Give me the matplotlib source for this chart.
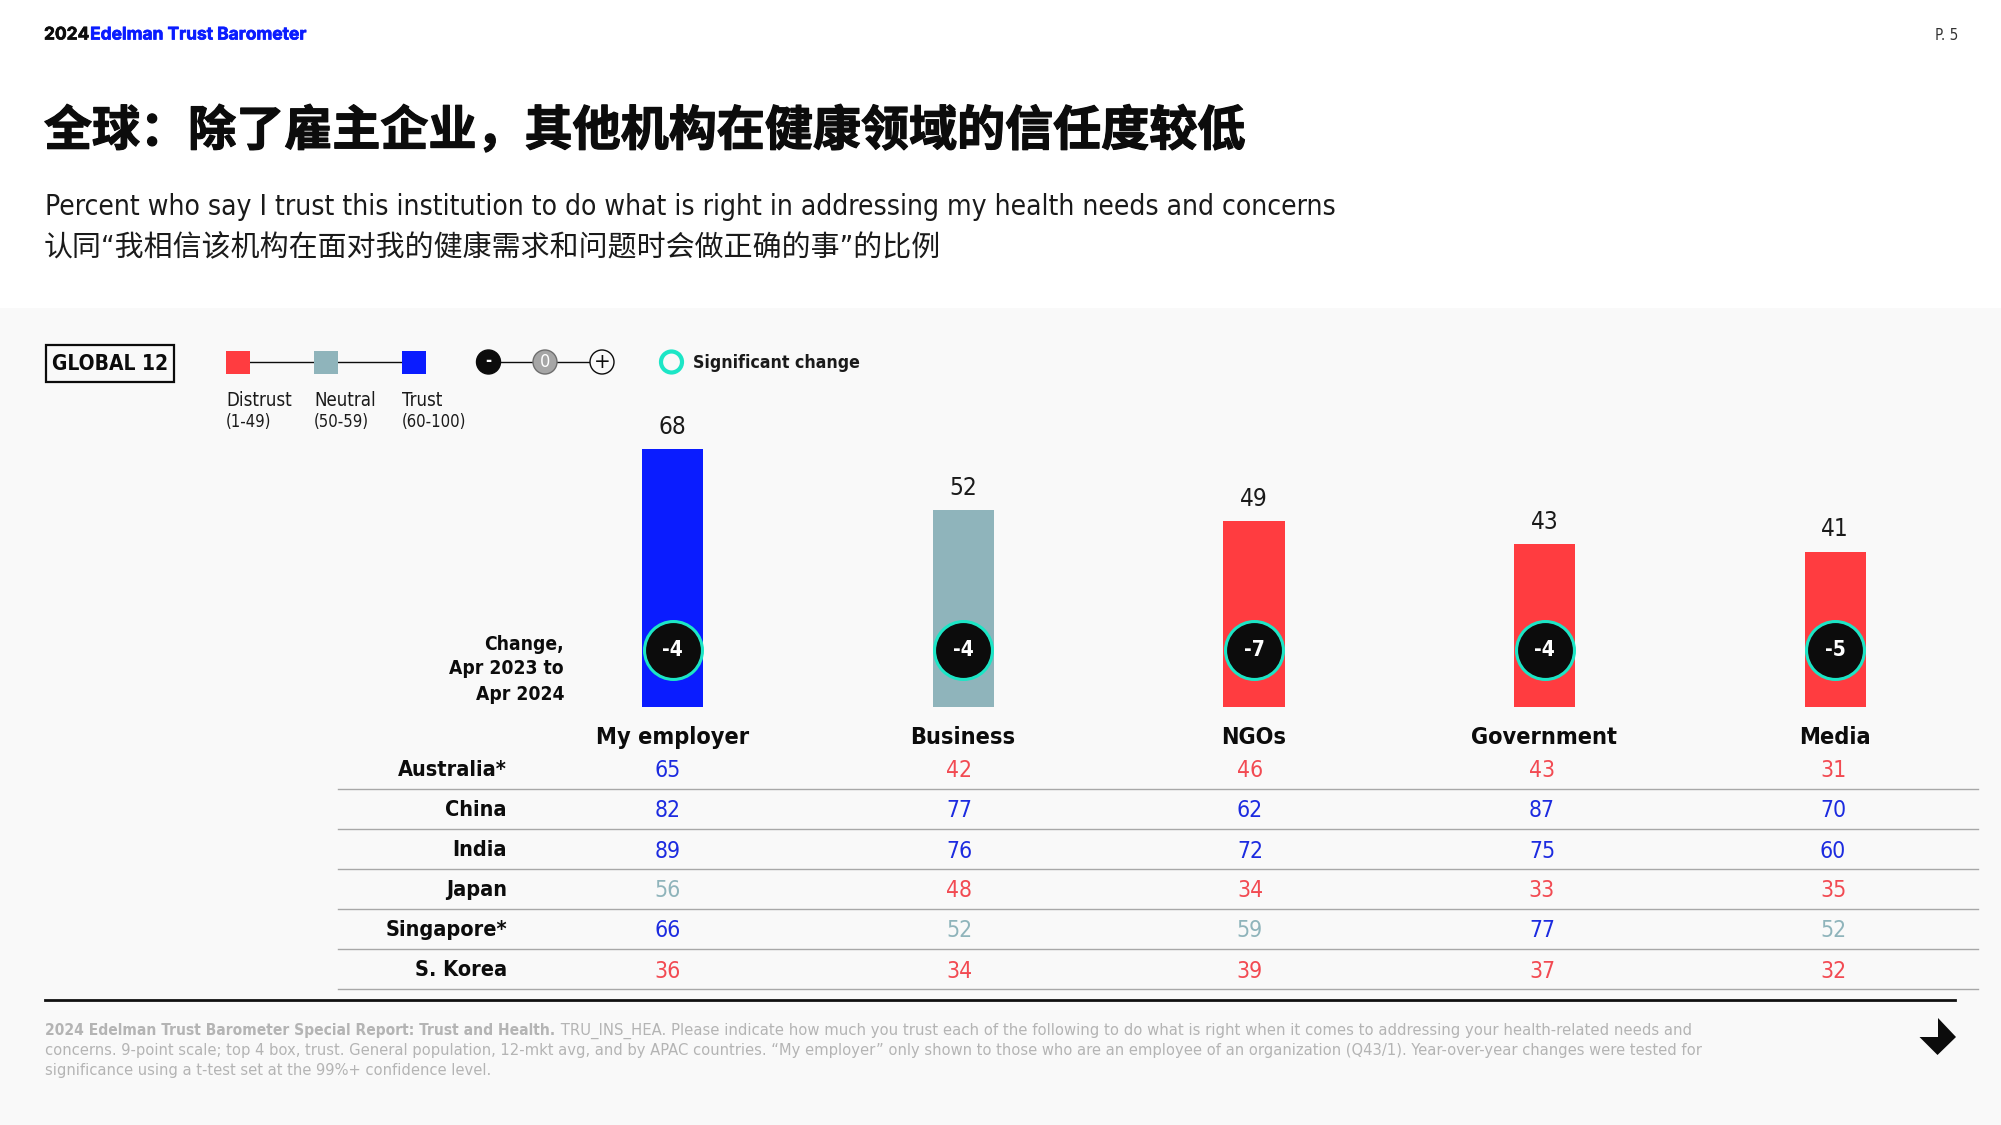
"""Edelman Trust Barometer slide: trust in institutions on health, global and APAC."""
import matplotlib
matplotlib.use("Agg")
import matplotlib.pyplot as plt
import matplotlib.patheffects as pe
from matplotlib.patches import Circle, Polygon, Rectangle

W, H = 2001, 1125

INSTITUTIONS = ["My employer", "Business", "NGOs", "Government", "Media"]
GLOBAL_TRUST = [68, 52, 49, 43, 41]
CHANGE = [-4, -4, -7, -4, -5]

COUNTRIES = ["Australia*", "China", "India", "Japan", "Singapore*", "S. Korea"]
AUSTRALIA = [65, 42, 46, 43, 31]
CHINA = [82, 77, 62, 87, 70]
INDIA = [89, 76, 72, 75, 60]
JAPAN = [56, 48, 34, 33, 35]
SINGAPORE = [66, 52, 59, 77, 52]
S_KOREA = [36, 34, 39, 37, 32]
COUNTRY_ROWS = [AUSTRALIA, CHINA, INDIA, JAPAN, SINGAPORE, S_KOREA]

LEGEND_NAMES = ["Distrust", "Neutral", "Trust"]
LEGEND_RANGES = ["(1-49)", "(50-59)", "(60-100)"]

# full-width colon and comma, the CJK font sets them on a whole em
TITLE = "全球\uff1a除了雇主企业\uff0c其他机构在健康领域的信任度较低"
SUB_EN = "Percent who say I trust this institution to do what is right in addressing my health needs and concerns"
SUB_ZH = "认同“我相信该机构在面对我的健康需求和问题时会做正确的事”的比例"
NOTE_BOLD = "2024 Edelman Trust Barometer Special Report: Trust and Health."
NOTE_1 = " TRU_INS_HEA. Please indicate how much you trust each of the following to do what is right when it comes to addressing your health-related needs and"
NOTE_2 = "concerns. 9-point scale; top 4 box, trust. General population, 12-mkt avg, and by APAC countries. “My employer” only shown to those who are an employee of an organization (Q43/1). Year-over-year changes were tested for"
NOTE_3 = "significance using a t-test set at the 99%+ confidence level."

RED = "#ff3c40"
TEAL = "#8fb4bb"
BLUE = "#0a1cff"
CYAN = "#1ce6c6"
DARK = "#0c0c0c"
PANEL = "#f9f9f9"
NOTE_GREY = "#b4b4b4"
TABLE_RED = "#f24a52"
TABLE_BLUE = "#1c2be0"
CJK = ["Noto Sans CJK SC", "DejaVu Sans"]
LATIN_FIRST = ["DejaVu Sans", "Noto Sans CJK SC"]

plt.rcParams["font.stretch"] = "condensed"


def band_color(v, red=RED, blue=BLUE):
    if v < 50:
        return red
    return TEAL if v < 60 else blue


fig = plt.figure(figsize=(W / 100, H / 100), dpi=100, facecolor="white")

# page axes in pixel coordinates, y pointing down
page = fig.add_axes([0, 0, 1, 1])
page.set_xlim(0, W)
page.set_ylim(H, 0)
page.axis("off")
page.add_patch(Rectangle((0, 308), W, H - 308, color=PANEL, lw=0, zorder=0))


def text_after(first, y, s, **kw):
    """Put s straight after an already drawn text."""
    box = first.get_window_extent(fig.canvas.get_renderer())
    return page.text(box.x1 + 1, y, s, **kw)


# header
head_fx = [pe.withStroke(linewidth=0.5, foreground=DARK)]
head = page.text(44, 35, "2024", fontsize=12.5, family="Inter", weight="bold", color=DARK, va="center",
                 path_effects=head_fx)
text_after(head, 35, "Edelman Trust Barometer", fontsize=12.5, family="Inter", weight="bold",
           color=BLUE, va="center", path_effects=[pe.withStroke(linewidth=0.5, foreground=BLUE)])
page.text(1958, 35, "P. 5", fontsize=11, color="#333333", ha="right", va="center")
page.text(44, 131, TITLE, fontsize=34.6, family=CJK, weight=900, color=DARK, va="center",
          path_effects=[pe.withStroke(linewidth=0.9, foreground=DARK)])
page.text(45, 207, SUB_EN, fontsize=20.28, color="#1a1a1a", va="center")
page.text(44, 248, SUB_ZH, fontsize=20.85, family=LATIN_FIRST, color="#1a1a1a", va="center")

# legend
page.add_patch(Rectangle((46, 345), 128, 37, fc=PANEL, ec=DARK, lw=1.6, zorder=2))
page.text(110, 364, "GLOBAL 12", fontsize=15, weight="bold", color=DARK, ha="center", va="center", zorder=3)
page.plot([238, 414], [362, 362], color=DARK, lw=1, zorder=1)
for x, c, name, rng in zip([226, 314, 402], [RED, TEAL, BLUE], LEGEND_NAMES, LEGEND_RANGES):
    page.add_patch(Rectangle((x, 351), 24, 23, color=c, lw=0, zorder=2))
    page.text(x, 400.5, name, fontsize=13.4, color="#1a1a1a", va="center")
    page.text(x, 422, rng, fontsize=12, color="#1a1a1a", va="center")
page.plot([488, 602], [362, 362], color=DARK, lw=1, zorder=1)
page.add_patch(Circle((488.5, 362), 12, fc=DARK, ec=DARK, zorder=2))
page.text(488.5, 361, "-", fontsize=12, weight="bold", color="white", ha="center", va="center", zorder=3)
page.add_patch(Circle((545, 362), 12, fc="#a6a6a6", ec="#6e6e6e", lw=1, zorder=2))
page.text(545, 362, "0", fontsize=13, color="white", ha="center", va="center", zorder=3)
page.add_patch(Circle((602, 362), 12, fc=PANEL, ec=DARK, lw=1, zorder=2))
page.text(602, 362, "+", fontsize=16, color=DARK, ha="center", va="center", zorder=3)
page.add_patch(Circle((671.5, 362), 10.5, fc=PANEL, ec=CYAN, lw=3, zorder=2))
page.text(693, 362.5, "Significant change", fontsize=12.7, weight="bold", color="#1a1a1a", va="center")

# bars sit on their own axes: baseline at y=707, 3.79 px per point
ax = fig.add_axes([527.5 / W, 1 - 707 / H, 1453 / W, 379 / H])
ax.patch.set_alpha(0)
ax.axis("off")
ax.set_xlim(-0.5, 4.5)
ax.set_ylim(0, 100)
pos = range(len(INSTITUTIONS))
bars = ax.bar(pos, GLOBAL_TRUST, width=0.21, color=[band_color(v) for v in GLOBAL_TRUST], zorder=1)
ax.bar_label(bars, padding=7.5, fontsize=17.5, color="#1a1a1a")
ax.scatter(pos, [15] * len(pos), s=1740, c=DARK, edgecolors=CYAN, linewidths=2.2, zorder=2, clip_on=False)
for p, c in zip(pos, CHANGE):
    ax.text(p, 15, str(c), fontsize=15, weight="bold", color="white", ha="center", va="center", zorder=3)

# left note and category headers
for y, line in zip([644, 669, 694], ["Change,", "Apr 2023 to", "Apr 2024"]):
    page.text(564, y, line, fontsize=13.8, weight="bold", color=DARK, ha="right", va="center")
for x, name in zip([672.5, 963, 1254, 1544, 1835], INSTITUTIONS):
    page.text(x, 737.5, name, fontsize=16.8, weight="bold", color=DARK, ha="center", va="center")

# country table
ROW_Y = [769.5, 809.5, 850, 889.5, 929.5, 970]
LINE_Y = [789, 829, 869, 909, 949, 989]
COL_X = [668, 959, 1250, 1542, 1833]
for y, ly, name, row in zip(ROW_Y, LINE_Y, COUNTRIES, COUNTRY_ROWS):
    page.text(507, y, name, fontsize=15.6, weight="bold", color=DARK, ha="right", va="center")
    page.plot([338, 1978], [ly, ly], color="#a8a8a8", lw=1)
    for x, v in zip(COL_X, row):
        page.text(x, y + 1, str(v), fontsize=16.5, color=band_color(v, TABLE_RED, TABLE_BLUE),
                  ha="center", va="center")

# footer
page.plot([45, 1955], [1000, 1000], color="#111111", lw=2)
bold = page.text(45, 1031, NOTE_BOLD, fontsize=11.2, weight="bold", color=NOTE_GREY, va="center")
text_after(bold, 1031, NOTE_1, fontsize=11.85, color=NOTE_GREY, va="center")
page.text(45, 1051, NOTE_2, fontsize=11.75, color=NOTE_GREY, va="center")
page.text(45, 1071, NOTE_3, fontsize=11.75, color=NOTE_GREY, va="center")
page.add_patch(Polygon([(1938, 1018), (1956, 1037), (1937.5, 1055), (1919.5, 1037), (1938, 1037)],
                       fc=DARK, ec="none"))

fig.savefig("out.png", dpi=100, facecolor="white")
